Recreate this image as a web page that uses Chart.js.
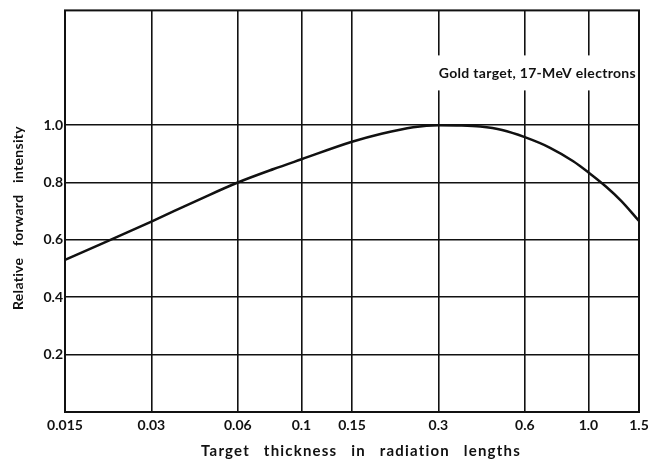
<!DOCTYPE html>
<html>
<head>
<meta charset="utf-8">
<script src="https://cdn.jsdelivr.net/npm/chart.js@4.4.1/dist/chart.umd.min.js"></script>
<style>
  html, body { margin: 0; padding: 0; background: #fff; }
  #wrap { width: 648px; height: 461px; }
</style>
</head>
<body>
<div id="wrap"><canvas id="chart"></canvas></div>
<script>
// Data
const thickness = [0.015, 0.02, 0.03, 0.045, 0.06, 0.08, 0.1, 0.15, 0.19, 0.245, 0.3, 0.36, 0.42, 0.5, 0.6, 0.735, 0.885, 1.0, 1.15, 1.3, 1.5];
const intensity = [0.53, 0.585, 0.664, 0.745, 0.80, 0.847, 0.881, 0.942, 0.97, 0.993, 1.0, 0.999, 0.995, 0.983, 0.958, 0.921, 0.874, 0.835, 0.786, 0.736, 0.666];

const xTicks = [0.015, 0.03, 0.06, 0.1, 0.15, 0.3, 0.6, 1.0, 1.5];
const xTickLabels = ['0.015', '0.03', '0.06', '0.1', '0.15', '0.3', '0.6', '1.0', '1.5'];
const yTicks = [0.2, 0.4, 0.6, 0.8, 1.0];
const yTickLabels = ['0.2', '0.4', '0.6', '0.8', '1.0'];

const xTitle = 'Target thickness in radiation lengths';
const yTitle = 'Relative forward intensity';
const annotationText = 'Gold target, 17-MeV electrons';
const FONT = "Lato, 'DejaVu Sans', sans-serif";
const INK = '#111';

// Frame, axis titles (widely spaced like the original lettering) and label box
const framePlugin = {
    id: 'frame',
    afterDatasetsDraw(chart) {
        const { ctx, chartArea: a } = chart;
        ctx.save();
        ctx.letterSpacing = '0.3px';
        ctx.font = 'bold 14px ' + FONT;
        ctx.textBaseline = 'middle';
        ctx.textAlign = 'right';
        const w = ctx.measureText(annotationText).width;
        const tx = a.right - 3;
        const ty = a.top + 63;
        ctx.fillStyle = '#fff';
        ctx.fillRect(tx - w - 6, ty - 18, w + 8, 35);
        ctx.fillStyle = INK;
        ctx.fillText(annotationText, tx, ty);

        // x axis title
        ctx.font = 'bold 15px ' + FONT;
        ctx.wordSpacing = '9px';
        ctx.letterSpacing = '1.2px';
        ctx.textAlign = 'center';
        ctx.fillText(xTitle, (a.left + a.right) / 2 + 9, 451);

        // y axis title
        ctx.font = 'bold 14px ' + FONT;
        ctx.wordSpacing = '8px';
        ctx.letterSpacing = '0.3px';
        ctx.save();
        ctx.translate(18, 218);
        ctx.rotate(-Math.PI / 2);
        ctx.fillText(yTitle, 0, 0);
        ctx.restore();

        ctx.strokeStyle = INK;
        ctx.lineWidth = 2;
        ctx.strokeRect(a.left, a.top, a.right - a.left, a.bottom - a.top);
        ctx.restore();
    }
};

const ctx = document.getElementById('chart');
new Chart(ctx, {
    type: 'line',
    data: {
        datasets: [{
            data: thickness.map((x, i) => ({ x: x, y: intensity[i] })),
            borderColor: INK,
            borderWidth: 2.5,
            pointRadius: 0,
            fill: false,
            cubicInterpolationMode: 'monotone'
        }]
    },
    options: {
        responsive: true,
        maintainAspectRatio: false,
        animation: false,
        layout: { padding: { left: 0, right: 0, top: 10, bottom: 0 } },
        plugins: {
            legend: { display: false },
            tooltip: { enabled: false }
        },
        scales: {
            x: {
                type: 'logarithmic',
                min: 0.015,
                max: 1.5,
                afterBuildTicks: axis => { axis.ticks = xTicks.map(v => ({ value: v })); },
                afterFit: axis => {
                    axis.height = 49;
                    axis.paddingLeft = 0;
                    axis.paddingRight = 9;
                },
                ticks: {
                    autoSkip: false,
                    maxRotation: 0,
                    color: INK,
                    font: { family: FONT, size: 14, weight: 'bold' },
                    padding: 5,
                    callback: (v, i) => xTickLabels[i]
                },
                grid: { color: INK, lineWidth: 1.6, drawTicks: false },
                border: { display: false }
            },
            y: {
                min: 0,
                max: 1.4,
                afterBuildTicks: axis => { axis.ticks = yTicks.map(v => ({ value: v })); },
                afterFit: axis => { axis.width = 65; },
                ticks: {
                    color: INK,
                    font: { family: FONT, size: 14, weight: 'bold' },
                    padding: 2,
                    callback: (v, i) => yTickLabels[i]
                },
                grid: { color: INK, lineWidth: 1.6, drawTicks: false },
                border: { display: false }
            }
        }
    },
    plugins: [framePlugin]
});
</script>
</body>
</html>
